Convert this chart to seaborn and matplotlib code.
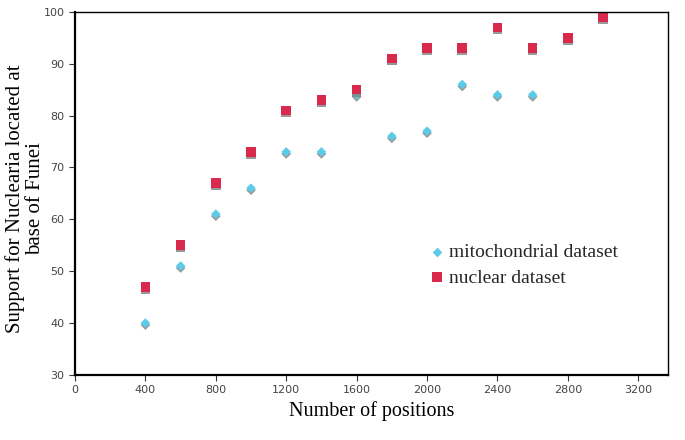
import pandas as pd
import seaborn as sns
import matplotlib.patheffects as pe
from matplotlib import pyplot as plt

# data
mito_positions = [400, 600, 800, 1000, 1200, 1400, 1600, 1800, 2000, 2200, 2400, 2600]
mito_support = [40, 51, 61, 66, 73, 73, 84, 76, 77, 86, 84, 84]
nuc_positions = [400, 600, 800, 1000, 1200, 1400, 1600, 1800, 2000, 2200, 2400, 2600, 2800, 3000]
nuc_support = [47, 55, 67, 73, 81, 83, 85, 91, 93, 93, 97, 93, 95, 99]
x_ticks = [0, 400, 800, 1200, 1600, 2000, 2400, 2800, 3200]
y_ticks = [30, 40, 50, 60, 70, 80, 90, 100]

df = pd.concat([
    pd.DataFrame({"positions": mito_positions, "support": mito_support,
                  "dataset": "mitochondrial dataset"}),
    pd.DataFrame({"positions": nuc_positions, "support": nuc_support,
                  "dataset": "nuclear dataset"}),
])

sns.set_theme(style="white")
fig = plt.figure(figsize=(6.85, 4.4), dpi=100)
ax = fig.add_axes([0.1095, 0.148, 0.866, 0.825])

palette = {"mitochondrial dataset": "#5ccbea", "nuclear dataset": "#d92a4e"}
markers = {"mitochondrial dataset": "D", "nuclear dataset": "s"}
sizes = {"mitochondrial dataset": 24, "nuclear dataset": 48}
shadow = [pe.SimplePatchShadow(offset=(0, -1.5), shadow_rgbFace="#808080", alpha=0.8), pe.Normal()]

for name, sub in df.groupby("dataset"):
    sns.scatterplot(data=sub, x="positions", y="support", ax=ax,
                    color=palette[name], marker=markers[name], s=sizes[name],
                    linewidth=0, label=name, path_effects=shadow)

ax.set_xlim(0, 3370)
ax.set_ylim(30, 100)
ax.set_xticks(x_ticks)
ax.set_yticks(y_ticks)
ax.tick_params(axis="both", direction="out", length=4, width=0.8,
               colors="#333333", labelsize=8, bottom=True, left=True)
for lab in ax.get_xticklabels() + ax.get_yticklabels():
    lab.set_fontfamily("DejaVu Sans")
    lab.set_color("#444444")

for side in ["left", "bottom"]:
    ax.spines[side].set_linewidth(1.6)
    ax.spines[side].set_color("black")
for side in ["top", "right"]:
    ax.spines[side].set_linewidth(1.0)
    ax.spines[side].set_color("black")

serif = ["Liberation Serif", "DejaVu Serif"]
ax.set_xlabel("Number of positions", family=serif, fontsize=14.5, color="black", labelpad=4)
ax.set_ylabel("Support for Nuclearia located at\nbase of Funei", family=serif,
              fontsize=15, color="black", linespacing=1.1)
ax.yaxis.set_label_coords(-0.05, 0.485)

leg = ax.legend(loc="upper left", bbox_to_anchor=(0.565, 0.41), frameon=False,
                prop={"family": serif, "size": 14}, handletextpad=0.1,
                labelspacing=0.4, handlelength=1.0)
for h in leg.legend_handles:
    h.set_path_effects([])

plt.savefig("out.png", dpi=100)
plt.close()
